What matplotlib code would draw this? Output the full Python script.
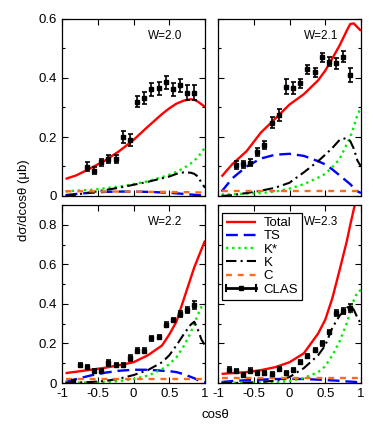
import matplotlib
matplotlib.use("Agg")
import matplotlib.pyplot as plt
from matplotlib.ticker import MultipleLocator, FuncFormatter
from matplotlib.legend_handler import HandlerBase
from matplotlib.lines import Line2D

plt.rcParams['font.family'] = ['Liberation Sans', 'DejaVu Sans']

# common cos(theta) grid for model curves
cos_curve = [-0.95, -0.8, -0.6, -0.4, -0.2, 0.0, 0.2, 0.4, 0.5, 0.6, 0.7, 0.8, 0.85, 0.9, 0.95, 1.0]

# ---- W = 2.0 ----
w20_total = [0.058, 0.070, 0.094, 0.120, 0.152, 0.190, 0.235, 0.278, 0.297, 0.313, 0.323, 0.328, 0.326, 0.320, 0.311, 0.302]
w20_ts    = [0.003, 0.007, 0.011, 0.014, 0.015, 0.015, 0.014, 0.012, 0.011, 0.009, 0.007, 0.005, 0.004, 0.003, 0.002, 0.001]
w20_kstar = [0.016, 0.018, 0.021, 0.026, 0.032, 0.040, 0.050, 0.064, 0.072, 0.082, 0.094, 0.110, 0.120, 0.132, 0.147, 0.165]
w20_k     = [0.000, 0.005, 0.012, 0.020, 0.028, 0.038, 0.048, 0.060, 0.066, 0.075, 0.080, 0.079, 0.075, 0.066, 0.045, 0.028]
w20_c     = [0.016, 0.016, 0.016, 0.015, 0.015, 0.015, 0.014, 0.014, 0.014, 0.013, 0.013, 0.013, 0.013, 0.012, 0.012, 0.012]
w20_cos   = [-0.65, -0.55, -0.45, -0.35, -0.25, -0.15, -0.05, 0.05, 0.15, 0.25, 0.35, 0.45, 0.55, 0.65, 0.75, 0.85]
w20_data  = [0.099, 0.086, 0.114, 0.125, 0.125, 0.201, 0.190, 0.320, 0.333, 0.362, 0.365, 0.385, 0.362, 0.376, 0.350, 0.350]
w20_err   = [0.015, 0.012, 0.013, 0.013, 0.013, 0.020, 0.020, 0.020, 0.020, 0.022, 0.022, 0.022, 0.022, 0.022, 0.025, 0.025]

# ---- W = 2.1 ----
w21_total = [0.066, 0.108, 0.152, 0.215, 0.262, 0.310, 0.345, 0.392, 0.425, 0.467, 0.510, 0.560, 0.583, 0.585, 0.572, 0.560]
w21_ts    = [0.015, 0.060, 0.100, 0.127, 0.140, 0.143, 0.136, 0.118, 0.107, 0.090, 0.070, 0.050, 0.040, 0.027, 0.016, 0.010]
w21_kstar = [0.005, 0.006, 0.008, 0.010, 0.015, 0.025, 0.040, 0.062, 0.075, 0.098, 0.125, 0.175, 0.200, 0.235, 0.275, 0.300]
w21_k     = [0.000, 0.003, 0.010, 0.018, 0.028, 0.045, 0.080, 0.118, 0.140, 0.163, 0.190, 0.197, 0.186, 0.160, 0.120, 0.100]
w21_c     = [0.016, 0.016, 0.016, 0.016, 0.016, 0.016, 0.016, 0.016, 0.016, 0.016, 0.016, 0.016, 0.016, 0.016, 0.016, 0.016]
w21_cos   = [-0.75, -0.65, -0.55, -0.45, -0.35, -0.25, -0.15, -0.05, 0.05, 0.15, 0.25, 0.35, 0.45, 0.55, 0.65, 0.75, 0.85]
w21_data  = [0.105, 0.108, 0.113, 0.150, 0.173, 0.249, 0.275, 0.371, 0.365, 0.382, 0.429, 0.419, 0.470, 0.455, 0.450, 0.472, 0.410]
w21_err   = [0.015, 0.012, 0.012, 0.013, 0.015, 0.020, 0.020, 0.025, 0.020, 0.015, 0.015, 0.015, 0.015, 0.015, 0.018, 0.018, 0.025]

# ---- W = 2.2 ----
w22_total = [0.050, 0.057, 0.067, 0.077, 0.090, 0.105, 0.140, 0.190, 0.245, 0.310, 0.420, 0.530, 0.585, 0.630, 0.675, 0.720]
w22_ts    = [0.005, 0.020, 0.038, 0.052, 0.062, 0.067, 0.067, 0.062, 0.060, 0.055, 0.045, 0.031, 0.024, 0.015, 0.006, 0.002]
w22_kstar = [0.002, 0.002, 0.003, 0.005, 0.010, 0.020, 0.037, 0.070, 0.095, 0.130, 0.185, 0.255, 0.300, 0.345, 0.385, 0.400]
w22_k     = [0.000, 0.002, 0.005, 0.010, 0.022, 0.040, 0.065, 0.105, 0.140, 0.190, 0.245, 0.295, 0.310, 0.270, 0.220, 0.190]
w22_c     = [0.020, 0.020, 0.020, 0.020, 0.020, 0.020, 0.020, 0.020, 0.020, 0.020, 0.020, 0.020, 0.020, 0.020, 0.020, 0.020]
w22_cos   = [-0.85, -0.75, -0.65, -0.55, -0.45, -0.35, -0.25, -0.15, -0.05, 0.05, 0.15, 0.25, 0.35, 0.45, 0.55, 0.65, 0.75, 0.85]
w22_data  = [0.008, 0.091, 0.080, 0.061, 0.063, 0.103, 0.091, 0.091, 0.125, 0.164, 0.164, 0.226, 0.232, 0.294, 0.318, 0.350, 0.370, 0.395]
w22_err   = [0.008, 0.012, 0.010, 0.010, 0.010, 0.015, 0.012, 0.012, 0.015, 0.012, 0.012, 0.012, 0.012, 0.012, 0.012, 0.015, 0.015, 0.020]

# ---- W = 2.3 ----
w23_total = [0.046, 0.050, 0.055, 0.065, 0.080, 0.105, 0.150, 0.250, 0.320, 0.430, 0.570, 0.715, 0.800, 0.880, 0.950, 1.000]
w23_ts    = [0.005, 0.010, 0.014, 0.017, 0.020, 0.021, 0.020, 0.017, 0.015, 0.013, 0.011, 0.008, 0.007, 0.006, 0.004, 0.003]
w23_kstar = [0.001, 0.001, 0.002, 0.003, 0.005, 0.010, 0.025, 0.055, 0.085, 0.140, 0.210, 0.300, 0.360, 0.420, 0.460, 0.470]
w23_k     = [0.000, 0.000, 0.002, 0.005, 0.012, 0.030, 0.075, 0.140, 0.190, 0.280, 0.340, 0.380, 0.390, 0.370, 0.330, 0.300]
w23_c     = [0.026, 0.026, 0.026, 0.026, 0.026, 0.026, 0.026, 0.026, 0.026, 0.026, 0.026, 0.026, 0.026, 0.026, 0.026, 0.026]
w23_cos   = [-0.85, -0.75, -0.65, -0.55, -0.45, -0.35, -0.25, -0.15, -0.05, 0.05, 0.15, 0.25, 0.35, 0.45, 0.55, 0.65, 0.75, 0.85]
w23_data  = [0.068, 0.062, 0.042, 0.062, 0.049, 0.051, 0.048, 0.069, 0.052, 0.066, 0.104, 0.135, 0.167, 0.200, 0.258, 0.353, 0.362, 0.380]
w23_err   = [0.012, 0.010, 0.010, 0.012, 0.010, 0.010, 0.010, 0.010, 0.010, 0.010, 0.010, 0.010, 0.012, 0.012, 0.012, 0.015, 0.015, 0.020]

panel_labels = ["W=2.0", "W=2.1", "W=2.2", "W=2.3"]
legend_labels = ["Total", "TS", "K*", "K", "C", "CLAS"]
xticks = [-1, -0.5, 0, 0.5, 1]
xtick_labels = ["-1", "-0.5", "0", "0.5", "1"]

panels = [
    (w20_total, w20_ts, w20_kstar, w20_k, w20_c, w20_cos, w20_data, w20_err),
    (w21_total, w21_ts, w21_kstar, w21_k, w21_c, w21_cos, w21_data, w21_err),
    (w22_total, w22_ts, w22_kstar, w22_k, w22_c, w22_cos, w22_data, w22_err),
    (w23_total, w23_ts, w23_kstar, w23_k, w23_c, w23_cos, w23_data, w23_err),
]


class HorizontalErrHandler(HandlerBase):
    """Legend key drawn as a horizontal bar with end caps and a centre dot."""
    def create_artists(self, legend, orig_handle, xdescent, ydescent,
                       width, height, fontsize, trans):
        y = height / 2.0 - ydescent
        x0 = -xdescent
        x1 = x0 + width
        cap = height * 0.35
        line = Line2D([x0, x1], [y, y], color='black', lw=2.0, transform=trans)
        c1 = Line2D([x0, x0], [y - cap, y + cap], color='black', lw=1.5, transform=trans)
        c2 = Line2D([x1, x1], [y - cap, y + cap], color='black', lw=1.5, transform=trans)
        dot = Line2D([(x0 + x1) / 2.0], [y], marker='s', ms=3, color='black',
                     lw=0, transform=trans)
        return [line, c1, c2, dot]


fig = plt.figure(figsize=(3.74, 4.36), dpi=100)
W = 374.0; H = 436.0
rects = [
    (62 / W, 1 - 196 / H, 143 / W, 177 / H),
    (218 / W, 1 - 196 / H, 143 / W, 177 / H),
    (62 / W, 1 - 383 / H, 143 / W, 178 / H),
    (218 / W, 1 - 383 / H, 143 / W, 178 / H),
]

fs = 9.5
for i, (rect, p) in enumerate(zip(rects, panels)):
    total, ts, kstar, k, c, dcos, dval, derr = p
    ax = fig.add_axes(rect)
    h1, = ax.plot(cos_curve, total, color='#ff0000', lw=1.7, solid_capstyle='butt')
    h2, = ax.plot(cos_curve, ts, color='#0000ff', lw=1.7, dashes=(5, 2.5))
    h3, = ax.plot(cos_curve, kstar, color='#00ee00', lw=1.7, dashes=(1, 1.6))
    h4, = ax.plot(cos_curve, k, color='black', lw=1.5, dashes=(5, 2, 1, 2))
    h5, = ax.plot(cos_curve, c, color='#ff6a1a', lw=1.7, dashes=(2.5, 2.5))
    h6 = ax.errorbar(dcos, dval, yerr=derr, fmt='s', color='black', ms=3.2,
                     capsize=1.8, elinewidth=1.2, capthick=1.2)
    ax.set_xlim(-1, 1)
    if i < 2:
        ax.set_ylim(0, 0.6)
    else:
        ax.set_ylim(0, 0.9)
    ax.yaxis.set_major_locator(MultipleLocator(0.2))
    ax.yaxis.set_minor_locator(MultipleLocator(0.1))
    ax.set_xticks(xticks)
    ax.tick_params(which='both', direction='in', top=True, right=True, labelsize=fs)
    ax.tick_params(which='major', length=4, width=0.8)
    ax.tick_params(which='minor', length=2.5, width=0.8)
    if i < 2:
        ax.set_xticklabels([])
    else:
        ax.set_xticklabels(xtick_labels)
    if i % 2 == 1:
        ax.set_yticklabels([])
    else:
        ax.yaxis.set_major_formatter(FuncFormatter(lambda v, pos: "0" if abs(v) < 1e-9 else f"{v:.1f}"))
    for s in ax.spines.values():
        s.set_linewidth(0.9)
    ax.text(0.72, 0.905, panel_labels[i], transform=ax.transAxes, ha='center', va='center', fontsize=8.5)
    if i == 3:
        leg = ax.legend([h1, h2, h3, h4, h5, h6], legend_labels, loc='upper left',
                        bbox_to_anchor=(0.025, 0.955), fontsize=fs, frameon=True, fancybox=False,
                        edgecolor='black', handlelength=2.3, handletextpad=0.6,
                        labelspacing=0.08, borderpad=0.3, borderaxespad=0.0,
                        handler_map={type(h6): HorizontalErrHandler()})
        leg.get_frame().set_linewidth(0.9)
        leg.get_frame().set_alpha(1)

fig.text(0.065, 1 - 200 / H, "dσ/dcosθ (μb)", rotation=90, ha='center', va='center', fontsize=fs)
fig.text(0.575, 1 - 415 / H, "cosθ", ha='center', va='center', fontsize=fs)

fig.savefig("out.png", dpi=100)
